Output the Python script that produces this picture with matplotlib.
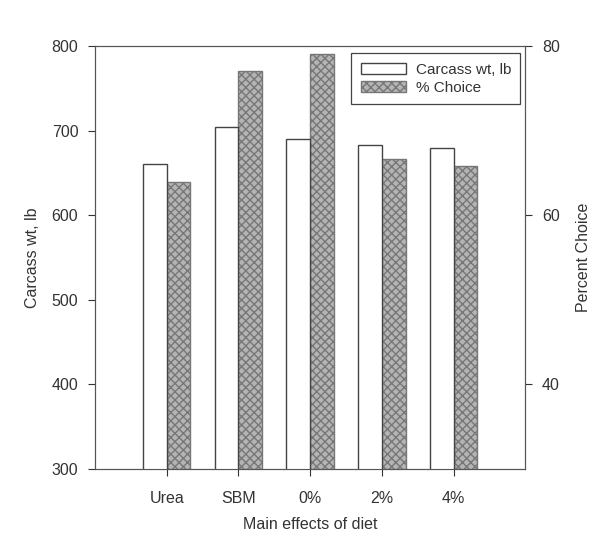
import numpy as np
import matplotlib.pyplot as plt

# Main effects of diet: carcass weight (left axis) and % Choice (right axis)
diets = ["Urea", "SBM", "0%", "2%", "4%"]
carcass_wt = [661, 705, 690, 683, 680]
pct_choice = [63.9, 77.1, 79.1, 66.7, 65.8]

plt.rcParams['font.family'] = ['Liberation Sans', 'DejaVu Sans']
plt.rcParams['font.size'] = 11.5
plt.rcParams['text.color'] = '#333333'
plt.rcParams['axes.labelcolor'] = '#333333'
plt.rcParams['xtick.color'] = '#333333'
plt.rcParams['ytick.color'] = '#333333'

fig = plt.figure(figsize=(6.01, 5.44), dpi=100)
ax = fig.add_axes([0.158, 0.138, 0.716, 0.777])
ax2 = ax.twinx()

x = np.arange(len(diets))
w = 0.33

b1 = ax.bar(x - w / 2, carcass_wt, width=w, color="white", edgecolor="#444444",
            linewidth=1.0, label="Carcass wt, lb", zorder=2)
b2 = ax2.bar(x + w / 2, pct_choice, width=w, color="#b4b4b4", edgecolor="#777777",
             hatch="xxxx", linewidth=1.0, label="% Choice", zorder=2)

ax.set_xlim(-1, 5)
ax.set_ylim(300, 800)
ax.set_yticks(range(300, 801, 100))
ax2.set_ylim(30, 80)
ax2.set_yticks([40, 60, 80])

ax.set_xticks(x)
ax.set_xticklabels(diets)
ax.set_xlabel("Main effects of diet", labelpad=8)
ax.set_ylabel("Carcass wt, lb", labelpad=8)
ax2.set_ylabel("Percent Choice", labelpad=12)

for a in (ax, ax2):
    for s in a.spines.values():
        s.set_color("#555555")
    a.tick_params(length=5, width=0.8, pad=7)
ax.tick_params(axis="x", pad=11)

leg = ax.legend([b1, b2], ["Carcass wt, lb", "% Choice"], loc="upper right",
                bbox_to_anchor=(0.988, 0.983), borderaxespad=0, fancybox=False,
                edgecolor="#444444", framealpha=1, fontsize=11, handlelength=3.0,
                handletextpad=0.6, borderpad=0.6, labelspacing=0.3)
leg.get_frame().set_linewidth(0.9)
ax.set_zorder(ax2.get_zorder() + 1)
ax.patch.set_visible(False)

fig.savefig("out.png", dpi=100)
